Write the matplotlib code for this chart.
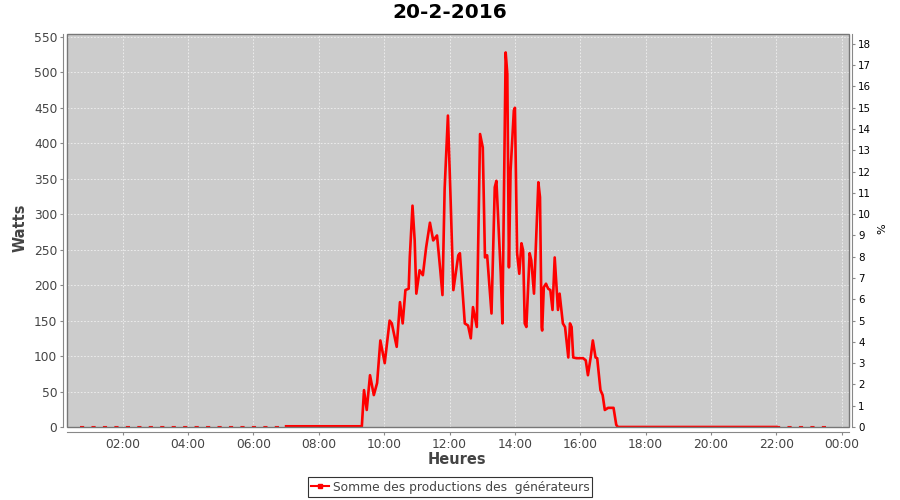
import matplotlib
matplotlib.use("Agg")
import matplotlib.pyplot as plt
from matplotlib.patches import Rectangle
from matplotlib.lines import Line2D
from matplotlib.ticker import FixedLocator

title = "20-2-2016"
series_name = "Somme des productions des  générateurs"

# daytime trace (solid line)
times = ["07:00", "09:19", "09:23", "09:28", "09:34", "09:41", "09:47", "09:53",
         "10:01", "10:10", "10:14", "10:23", "10:29", "10:34", "10:39", "10:45",
         "10:47", "10:52", "10:56", "10:59", "11:05", "11:11", "11:17", "11:24",
         "11:30", "11:37", "11:43", "11:47", "11:51", "11:57", "12:02", "12:07",
         "12:16", "12:19", "12:28", "12:34", "12:39", "12:43", "12:50", "12:56",
         "13:01", "13:05", "13:09", "13:17", "13:23", "13:26", "13:34", "13:37",
         "13:43", "13:46", "13:49", "13:52", "13:58", "14:00", "14:04", "14:08",
         "14:12", "14:15", "14:18", "14:21", "14:27", "14:30", "14:35", "14:43",
         "14:46", "14:49", "14:50", "14:53", "14:57", "15:01", "15:05", "15:09",
         "15:13", "15:19", "15:22", "15:28", "15:32", "15:38", "15:41", "15:44",
         "15:47", "15:53", "15:56", "16:05", "16:10", "16:14", "16:19", "16:23",
         "16:28", "16:31", "16:37", "16:41", "16:45", "16:51", "17:01", "17:06",
         "17:09", "22:00"]
watts = [1, 1, 52, 24, 73, 45, 62, 122,
         90, 150, 146, 113, 176, 146, 193, 195,
         239, 312, 263, 188, 221, 214, 253, 288,
         263, 270, 221, 186, 336, 439, 319, 193,
         242, 245, 146, 143, 125, 169, 141, 413,
         394, 239, 242, 160, 338, 347, 216, 146,
         528, 498, 225, 361, 446, 450, 245, 216,
         259, 249, 146, 141, 245, 235, 188, 345,
         324, 141, 136, 197, 202, 195, 193, 165,
         239, 165, 188, 146, 141, 98, 146, 141,
         98, 97, 97, 97, 94, 73, 98, 122,
         98, 97, 52, 45, 24, 27, 27, 3,
         0, 0]

# night periods with sparse records (dashed)
night_start = ["00:42", "22:00"]
night_end = ["07:00", "23:43"]
night_value = [0, 0]

left_ticks = list(range(0, 551, 50))
right_ticks = list(range(0, 19))
x_ticks = ["02:00", "04:00", "06:00", "08:00", "10:00", "12:00",
           "14:00", "16:00", "18:00", "20:00", "22:00", "00:00"]
rated_watts_per_pct = 30.0


def to_h(s):
    h, m = s.split(":")
    return int(h) + int(m) / 60.0


th = [to_h(t) for t in times]
x_tick_pos = [to_h(t) if t != "00:00" else 24.0 for t in x_ticks]

fig = plt.figure(figsize=(9, 5), dpi=100)
fig.patch.set_facecolor("white")
ax = fig.add_axes([67 / 900, 1 - 427 / 500, (849 - 67) / 900, (427 - 34) / 500])
ax.set_facecolor("#cccccc")

ax.set_xlim(0.297, 24.22)
ax.set_ylim(0, 554)

grey = "#888888"
for s in ["top", "right"]:
    ax.spines[s].set_visible(False)
ax.spines["left"].set_position(("outward", 3))
ax.spines["bottom"].set_position(("outward", 3.6))
ax.spines["left"].set_color(grey)
ax.spines["bottom"].set_color(grey)
ax.add_patch(Rectangle((0, 0), 1, 1, transform=ax.transAxes, fill=False,
                       edgecolor="#777777", lw=1.0, zorder=5, clip_on=False))

ax.yaxis.set_major_locator(FixedLocator(left_ticks))
ax.xaxis.set_major_locator(FixedLocator(x_tick_pos))
ax.set_xticklabels(x_ticks)
ax.tick_params(axis="both", colors=grey, labelcolor="#444444", labelsize=8.8,
               length=2, width=0.8, pad=2)
ax.grid(True, color="#f0f0f0", linestyle=(0, (2, 2)), lw=0.6)
ax.set_axisbelow(True)

ax.plot(th, watts, color="#ff0000", lw=1.9, solid_joinstyle="round", zorder=3)
for a, b, v in zip(night_start, night_end, night_value):
    ax.plot([to_h(a), to_h(b)], [v, v], color="#ff0000", lw=1.5,
            linestyle=(0, (2, 3.5)), zorder=3)

ax2 = ax.twinx()
ax2.set_ylim(0, 554 / rated_watts_per_pct)
for s in ["top", "left", "bottom"]:
    ax2.spines[s].set_visible(False)
ax2.spines["right"].set_position(("outward", 2))
ax2.spines["right"].set_color(grey)
ax2.yaxis.set_major_locator(FixedLocator(right_ticks))
ax2.tick_params(axis="y", colors=grey, labelcolor="black", labelsize=7.4,
                length=2, width=0.8, pad=2.5)

fig.text(450 / 900, 1 - 13 / 500, title, ha="center", va="center",
         fontsize=14.5, fontweight="bold", color="black")
fig.text(20 / 900, 1 - 228 / 500, "Watts", ha="center", va="center",
         rotation=90, fontsize=10.5, fontweight="bold", color="#444444")
fig.text(457 / 900, 1 - 460 / 500, "Heures", ha="center", va="center",
         fontsize=10.5, fontweight="bold", color="#444444")
fig.text(882 / 900, 1 - 229 / 500, "%", ha="center", va="center",
         rotation=90, fontsize=8, color="black")

handle = Line2D([], [], color="#ff0000", lw=1.5, marker="s", markersize=2.5)
leg = fig.legend([handle], [series_name], loc="center",
                 bbox_to_anchor=(450 / 900, 1 - 487 / 500), fontsize=8.8,
                 frameon=True, fancybox=False, handlelength=1.5,
                 handletextpad=0.3, borderpad=0.25, borderaxespad=0)
leg.get_frame().set_edgecolor("black")
leg.get_frame().set_linewidth(0.8)
for t in leg.get_texts():
    t.set_color("#444444")

fig.savefig("out.png", dpi=100)
